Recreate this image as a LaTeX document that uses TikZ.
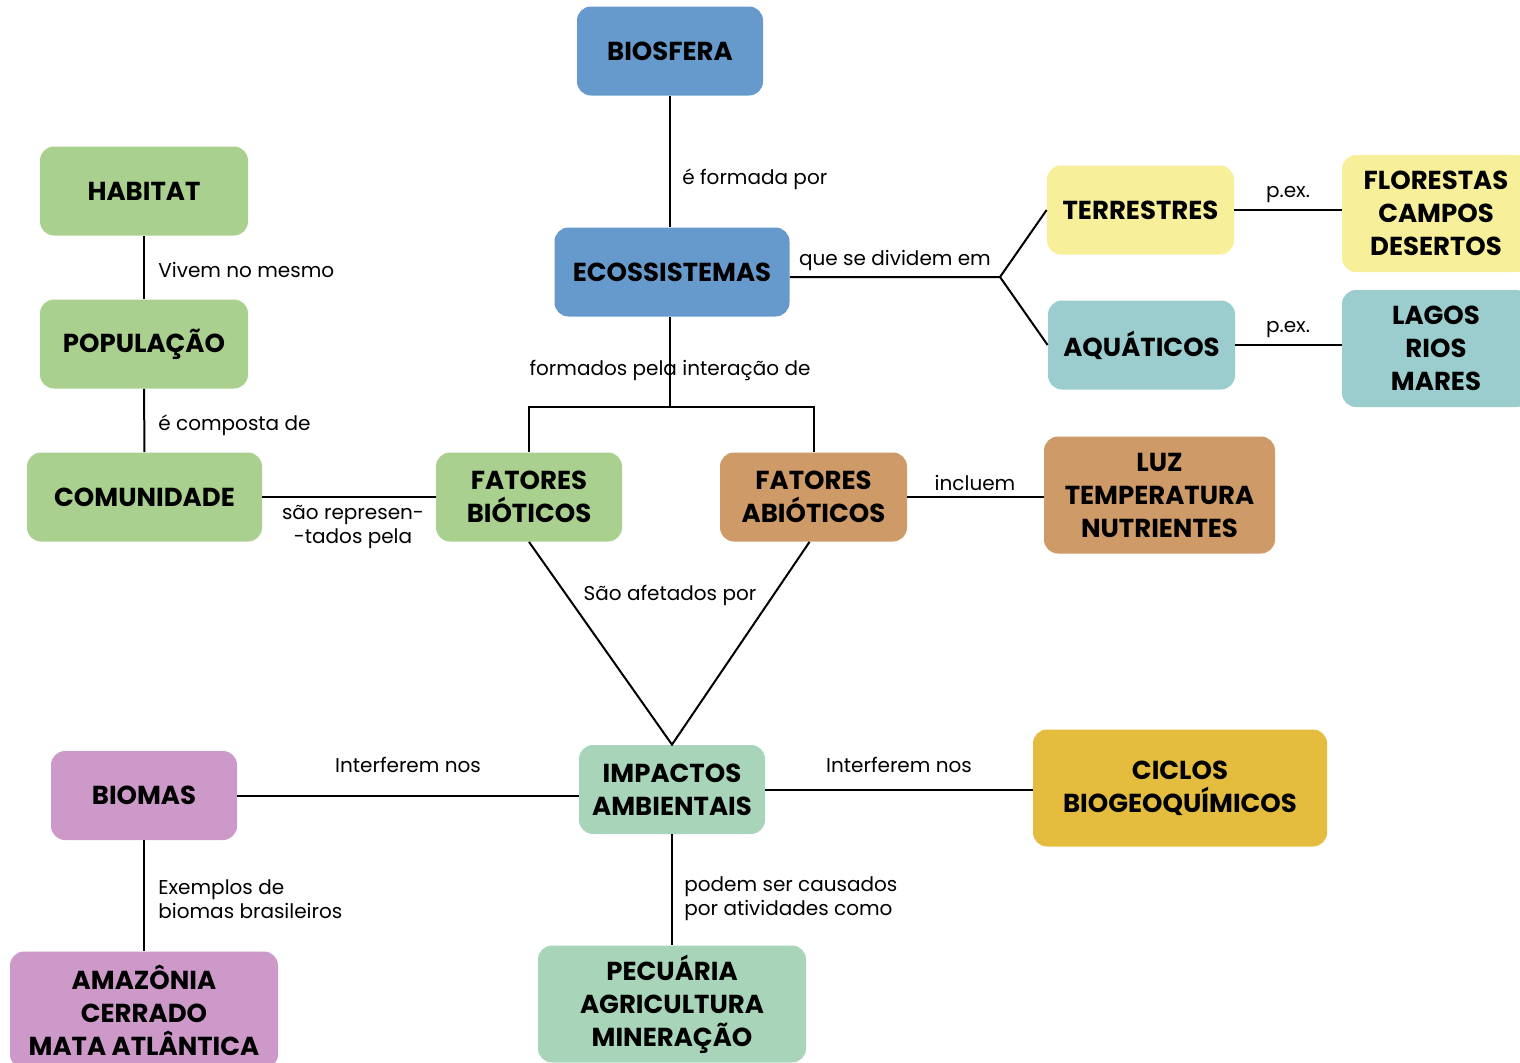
\documentclass[tikz,border=0pt]{standalone}
\usepackage{fontspec}
\setmainfont{Poppins}
\definecolor{azul}{HTML}{6699CC}
\definecolor{verde}{HTML}{A9D08E}
\definecolor{amarelo}{HTML}{F7EF99}
\definecolor{ciano}{HTML}{9BCDCE}
\definecolor{marrom}{HTML}{CE9A67}
\definecolor{menta}{HTML}{A8D5BA}
\definecolor{ouro}{HTML}{E4BD3E}
\definecolor{rosa}{HTML}{CC99C9}
\begin{document}
\begin{tikzpicture}[x=0.5pt,y=-0.5pt,
	caixa/.style={rounded corners=7pt,inner sep=2pt,align=center,
		font=\bfseries\fontsize{13}{16.5}\selectfont,minimum height=44.5pt},
	alta/.style={minimum height=58.5pt},
	rotulo/.style={font=\fontsize{10}{12}\selectfont,inner sep=0pt},
	liga/.style={line width=1pt}]
		\useasboundingbox (0,0) rectangle (1520,1062);

		\node[caixa,fill=azul,minimum width=93pt] (bio)at(670,51){BIOSFERA};
		\node[caixa,fill=azul,minimum width=117.5pt] (eco)at(672,272){ECOSSISTEMAS};

		\node[caixa,fill=verde,minimum width=104pt] (hab)at(144,191){HABITAT};
		\node[caixa,fill=verde,minimum width=104pt] (pop)at(144,344){POPULAÇÃO};
		\node[caixa,fill=verde,minimum width=117.5pt] (com)at(144.5,497){COMUNIDADE};

		\node[caixa,fill=amarelo,minimum width=93.5pt] (ter)at(1140.5,210){TERRESTRES};
		\node[caixa,fill=ciano,minimum width=93.5pt] (aqu)at(1141.5,345){AQUÁTICOS};
		\node[caixa,alta,fill=amarelo,minimum width=94pt] (flo)at(1436,213.5){FLORESTAS\\CAMPOS\\DESERTOS};
		\node[caixa,alta,fill=ciano,minimum width=94pt] (lag)at(1436,348.5){LAGOS\\RIOS\\MARES};

		\node[caixa,fill=verde,minimum width=93pt] (biot)at(529,497){FATORES\\BIÓTICOS};
		\node[caixa,fill=marrom,minimum width=93.5pt] (abiot)at(813.5,497){FATORES\\ABIÓTICOS};
		\node[caixa,alta,fill=marrom,minimum width=115.5pt] (luz)at(1159.5,495){LUZ\\TEMPERATURA\\NUTRIENTES};

		\node[caixa,fill=menta,minimum width=93pt] (imp)at(672,789.5){IMPACTOS\\AMBIENTAIS};
		\node[caixa,alta,fill=ouro,minimum width=147pt] (cic)at(1180,788){CICLOS\\BIOGEOQUÍMICOS};
		\node[caixa,fill=rosa,minimum width=93pt] (bmas)at(144,795.5){BIOMAS};
		\node[caixa,alta,fill=rosa,minimum width=134pt] (ama)at(144,1010){AMAZÔNIA\\CERRADO\\MATA ATLÂNTICA};
		\node[caixa,alta,fill=menta,minimum width=134pt] (pec)at(672,1004){PECUÁRIA\\AGRICULTURA\\MINERAÇÃO};

		% rotulos das ligacoes
		\node[rotulo,anchor=west] (r1)at(682,179){é formada por};
		\node[rotulo,anchor=west] (r2)at(158,270){Vivem no mesmo};
		\node[rotulo,anchor=west] (r3)at(158,425){é composta de};
		\node[rotulo] (r4)at(895,260){que se dividem em};
		\node[rotulo] (r5)at(1288,195){p.ex.};
		\node[rotulo] (r6)at(1288,330){p.ex.};
		\node[rotulo] (r7)at(670,370){formados pela interação de};
		\node[rotulo,align=center] (r8)at(353,527){são represen-\\-tados pela};
		\node[rotulo] (r9)at(975,483){incluem};
		\node[rotulo] (r10)at(670,595){São afetados por};
		\node[rotulo] (r11)at(408,765){Interferem nos};
		\node[rotulo] (r12)at(899,765){Interferem nos};
		\node[rotulo,anchor=west,align=left] (r13)at(158,899){Exemplos de\\biomas brasileiros};
		\node[rotulo,anchor=west,align=left] (r14)at(684,899){podem ser causados\\por atividades como};

		\coordinate (div)at(1000,277);
		\coordinate (fork)at(670,407);

		\draw[liga] (bio) -- (bio |- eco.north);
		\draw[liga] (hab) -- (pop);
		\draw[liga] (pop) -- (com);
		\draw[liga] (eco.east |- div) -- (div) -- (ter.west);
		\draw[liga] (div) -- (aqu.west);
		\draw[liga] (ter.east) -- (ter.east -| flo.west);
		\draw[liga] (aqu.east) -- (aqu.east -| lag.west);
		\draw[liga] (fork |- eco.south) -- (fork);
		\draw[liga] (biot.north) |- (fork) -| (abiot.north);
		\draw[liga] (com) -- (biot);
		\draw[liga] (abiot) -- (luz.west |- abiot);
		\draw[liga] (biot.south) -- (imp.north) -- ([xshift=-2pt]abiot.south);
		\draw[liga] (bmas) -- (imp.west |- bmas);
		\draw[liga] (imp) -- (cic.west |- imp);
		\draw[liga] (bmas) -- (ama);
		\draw[liga] (imp) -- (pec);
\end{tikzpicture}
\end{document}
